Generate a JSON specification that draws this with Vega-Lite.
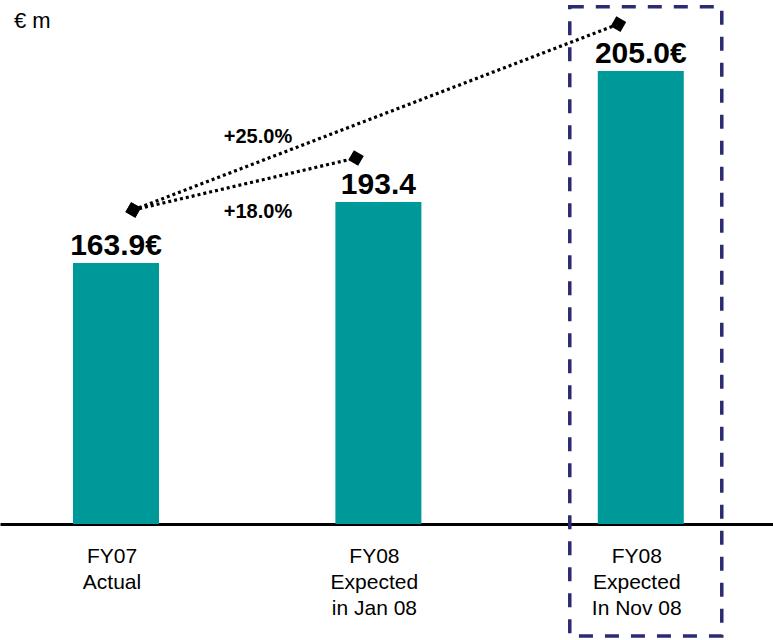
{
  "$schema": "https://vega.github.io/schema/vega-lite/v6.json",
  "width": 773,
  "height": 640,
  "autosize": {"type": "none"},
  "padding": 0,
  "background": "white",
  "config": {"view": {"stroke": null}, "font": "Liberation Sans"},
  "datasets": {
    "bars": [
      {"period": "FY07|Actual", "bar": 118.1, "label": "163.9€"},
      {"period": "FY08|Expected|in Jan 08", "bar": 145.7, "label": "193.4"},
      {"period": "FY08|Expected|In Nov 08", "bar": 205.0, "label": "205.0€"}
    ],
    "links": [
      {"from": "FY07|Actual", "to": "FY08|Expected|in Jan 08", "y_from": 142.1, "y_to": 165.6, "change": "+18.0%", "label_y": 141.2},
      {"from": "FY07|Actual", "to": "FY08|Expected|In Nov 08", "y_from": 142.1, "y_to": 226.2, "change": "+25.0%", "label_y": 175.1}
    ],
    "unit": [
      {"period": "FY07|Actual", "text": "€ m"}
    ]
  },
  "layer": [
    {
      "data": {"name": "bars"},
      "mark": {"type": "bar", "width": 86, "color": "#009999"},
      "encoding": {
        "x": {
          "field": "period", "type": "nominal",
          "scale": {"domain": ["FY07|Actual", "FY08|Expected|in Jan 08", "FY08|Expected|In Nov 08"], "paddingInner": 0.672, "paddingOuter": 0.309, "align": 0.45},
          "axis": {"title": null, "orient": "bottom", "offset": -116, "domainColor": "black", "domainWidth": 3, "ticks": false, "labelExpr": "split(datum.value, '|')", "labelFontSize": 21, "labelLineHeight": 26, "labelPadding": 21, "labelOffset": -4, "labelColor": "black", "labelAngle": 0, "labelLimit": 300}
        },
        "y": {"field": "bar", "type": "quantitative", "scale": {"domain": [-52.5, 237.1], "nice": false, "zero": false}, "axis": null}
      }
    },
    {
      "data": {"name": "bars"},
      "transform": [{"filter": "datum.period == 'FY08|Expected|In Nov 08'"}],
      "mark": {"type": "bar", "width": 152, "xOffset": 5, "fill": "white", "fillOpacity": 0, "stroke": "#2B2B72", "strokeWidth": 3.5, "strokeDash": [14, 12]},
      "encoding": {
        "x": {"field": "period", "type": "nominal"},
        "y": {"datum": 234, "type": "quantitative", "axis": null},
        "y2": {"datum": -50.7}
      }
    },
    {
      "data": {"name": "bars"},
      "mark": {"type": "text", "fontSize": 30, "fontWeight": "bold", "baseline": "alphabetic", "dy": -8, "color": "black"},
      "encoding": {
        "x": {"field": "period", "type": "nominal"},
        "y": {"field": "bar", "type": "quantitative", "axis": null},
        "text": {"field": "label"}
      }
    },
    {
      "data": {"name": "links"},
      "mark": {"type": "rule", "strokeDash": [3, 3], "strokeWidth": 3.2, "color": "black"},
      "encoding": {
        "x": {"field": "from", "type": "nominal", "bandPosition": 0.7},
        "x2": {"field": "to", "bandPosition": 0.24},
        "y": {"field": "y_from", "type": "quantitative", "axis": null},
        "y2": {"field": "y_to"}
      }
    },
    {
      "data": {"name": "links"},
      "mark": {"type": "point", "shape": "diamond", "filled": true, "size": 260, "color": "black", "opacity": 1, "angle": -15},
      "encoding": {
        "x": {"field": "from", "type": "nominal", "bandPosition": 0.7},
        "y": {"field": "y_from", "type": "quantitative", "axis": null}
      }
    },
    {
      "data": {"name": "links"},
      "mark": {"type": "point", "shape": "diamond", "filled": true, "size": 260, "color": "black", "opacity": 1, "angle": -15},
      "encoding": {
        "x": {"field": "to", "type": "nominal", "bandPosition": 0.24},
        "y": {"field": "y_to", "type": "quantitative", "axis": null}
      }
    },
    {
      "data": {"name": "links"},
      "mark": {"type": "text", "fontSize": 20, "fontWeight": "bold", "baseline": "middle", "dx": 142, "color": "black"},
      "encoding": {
        "x": {"field": "from", "type": "nominal"},
        "y": {"field": "label_y", "type": "quantitative", "axis": null},
        "text": {"field": "change"}
      }
    },
    {
      "data": {"name": "unit"},
      "mark": {"type": "text", "fontSize": 22, "align": "left", "baseline": "alphabetic", "dx": -59, "color": "black"},
      "encoding": {
        "x": {"field": "period", "type": "nominal", "bandPosition": 0},
        "y": {"datum": 224.3, "type": "quantitative", "axis": null},
        "text": {"field": "text"}
      }
    }
  ]
}
